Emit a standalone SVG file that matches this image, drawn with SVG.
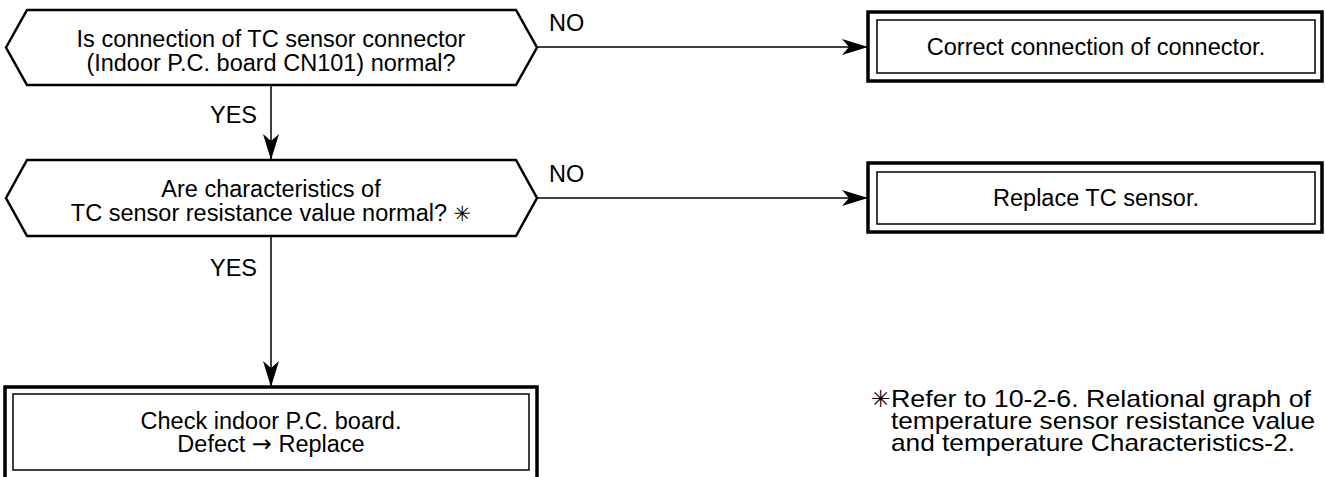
<svg xmlns="http://www.w3.org/2000/svg" width="1325" height="477" viewBox="0 0 1325 477">
<style>
text{font-family:"Liberation Sans",Arial,sans-serif;font-size:23.5px;fill:#000}
.c{text-anchor:middle}
.sym{font-family:"DejaVu Sans",sans-serif}
.hex{fill:#fff;stroke:#000;stroke-width:2.5}
.outer{fill:#fff;stroke:#000;stroke-width:3.5}
.inner{fill:none;stroke:#000;stroke-width:1.5}
.ln{stroke:#000;stroke-width:1.5;fill:none}
.note{font-size:24px}
</style>
<defs>
<marker id="ah" viewBox="0 0 26 16" refX="26" refY="8" markerWidth="26" markerHeight="16" markerUnits="userSpaceOnUse" orient="auto">
<path d="M0,0 L26,8 L0,16 L7,8 Z" fill="#000"/>
</marker>
</defs>
<g id="q1">
<polygon class="hex" points="6,47.5 27,10 516,10 537,47.5 516,85 27,85"/>
<text class="c" x="271" y="47">Is connection of TC sensor connector</text>
<text class="c" x="271" y="71">(Indoor P.C. board CN101) normal?</text>
</g>
<g id="a1">
<rect class="outer" x="868" y="12" width="454" height="69"/>
<rect class="inner" x="877" y="20" width="438" height="53"/>
<text class="c" x="1096" y="55">Correct connection of connector.</text>
</g>
<g id="q2">
<polygon class="hex" points="6,198 27,160 516,160 537,198 516,236 27,236"/>
<text class="c" x="271" y="197">Are characteristics of</text>
<text class="c" x="271" y="221">TC sensor resistance value normal? <tspan class="sym" font-size="21">✳</tspan></text>
</g>
<g id="a2">
<rect class="outer" x="868" y="163" width="454" height="69"/>
<rect class="inner" x="877" y="172" width="438" height="52"/>
<text class="c" x="1096" y="206">Replace TC sensor.</text>
</g>
<g id="a3">
<rect class="outer" x="5" y="387" width="532" height="95"/>
<rect class="inner" x="13" y="394" width="516" height="76"/>
<text class="c" x="271" y="429">Check indoor P.C. board.</text>
<text class="c" x="271" y="452">Defect <tspan class="sym" font-size="24">→</tspan> Replace</text>
</g>
<g id="connectors">
<line class="ln" x1="537" y1="47" x2="868" y2="47" marker-end="url(#ah)"/>
<line class="ln" x1="537" y1="198" x2="868" y2="198" marker-end="url(#ah)"/>
<line class="ln" x1="271" y1="85" x2="271" y2="160" marker-end="url(#ah)"/>
<line class="ln" x1="271" y1="236" x2="271" y2="387" marker-end="url(#ah)"/>
<text x="549" y="31">NO</text>
<text x="549" y="182">NO</text>
<text x="210" y="123">YES</text>
<text x="210" y="276">YES</text>
</g>
<g id="note">
<text class="sym" x="871" y="407" font-size="21">✳</text>
<text class="note" x="891" y="407" textLength="420" lengthAdjust="spacingAndGlyphs">Refer to 10-2-6. Relational graph of</text>
<text class="note" x="891" y="429" textLength="424" lengthAdjust="spacingAndGlyphs">temperature sensor resistance value</text>
<text class="note" x="891" y="451" textLength="404" lengthAdjust="spacingAndGlyphs">and temperature Characteristics-2.</text>
</g>
</svg>
